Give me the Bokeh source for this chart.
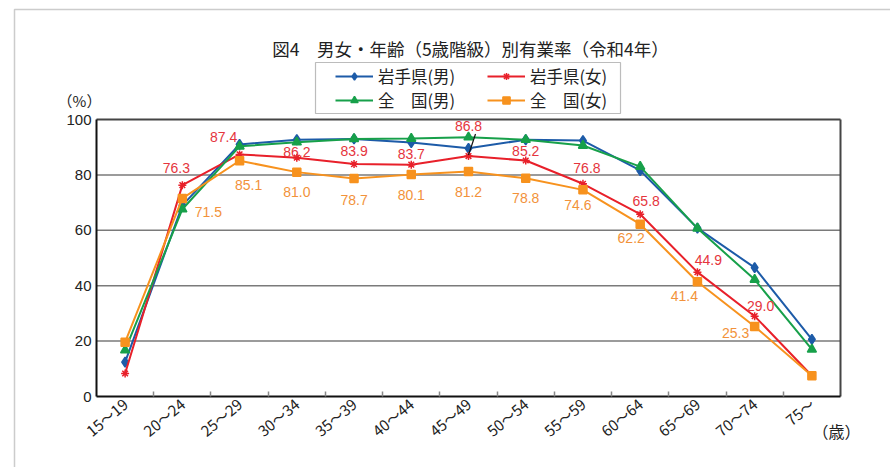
import math
from bokeh.plotting import figure
from bokeh.models import (Range1d, FixedTicker, Label, Legend, LegendItem,
                          BoxAnnotation, ColumnDataSource, LinearAxis)
from bokeh.core.properties import value
from bokeh.embed import file_html
from bokeh.resources import INLINE

# ---------------- data ----------------
categories = ["15～19", "20～24", "25～29", "30～34", "35～39", "40～44", "45～49",
              "50～54", "55～59", "60～64", "65～69", "70～74", "75～"]
iwate_male = [12.4, 69.0, 91.0, 92.7, 93.0, 91.7, 89.6, 92.7, 92.4, 81.6, 60.8, 46.5, 20.6]
iwate_female = [8.3, 76.3, 87.4, 86.2, 83.9, 83.7, 86.8, 85.2, 76.8, 65.8, 44.9, 29.0, 7.5]
japan_male = [16.7, 67.6, 90.3, 91.8, 93.0, 93.1, 93.6, 92.7, 90.6, 83.0, 60.7, 42.2, 17.0]
japan_female = [19.6, 71.5, 85.1, 81.0, 78.7, 80.1, 81.2, 78.8, 74.6, 62.2, 41.4, 25.3, 7.5]
y_ticks = [0, 20, 40, 60, 80, 100]
title_text = "図4　男女・年齢（5歳階級）別有業率（令和4年）"
series_names = ["岩手県(男)", "岩手県(女)", "全　国(男)", "全　国(女)"]

# label offsets in screen pixels (style only)
red_dx = [None, -6, -16, 0, 0, 0, 0, 0, 4, 6, 11, 6, None]
red_dy = [None, -17, -17, -6, -13, -11, -30, -9, -16, -13, -12, -10, None]
org_dx = [None, 26, 9, 0, 0, 0, 0, 0, -5, -9, -13, -19, None]
org_dy = [None, 14, 24, 20, 21, 20, 20, 20, 15, 14, 14, 7, None]

BLUE = "#1d5ba8"
RED = "#e8202a"
GREEN = "#17a04a"
ORANGE = "#f7921e"
RED_T = "#e5353d"
ORG_T = "#f2923a"
TXT = "#222222"
FONT = "Liberation Sans"
JFONT = "Noto Sans CJK JP"

# layout (pixels)
W, H = 890, 467
PL, PR, PT, PB = 96, 840, 119, 396          # plot area edges on the canvas
n = len(categories)
sx = (PR - PL) / n                            # px per category
sy = (PB - PT) / 100.0                        # px per percent
x_lo, x_hi = -0.5, n - 0.5

xs = list(range(n))

p = figure(width=W, height=H, output_backend="svg", toolbar_location=None,
           x_range=Range1d(x_lo - PL / sx, x_lo + (W - PL) / sx),
           y_range=Range1d(-(H - PB) / sy, 100 + PT / sy),
           x_axis_type=None, y_axis_type=None,
           min_border_left=0, min_border_right=0, min_border_top=0, min_border_bottom=0)
p.background_fill_color = "white"
p.border_fill_color = "white"
p.outline_line_color = None
p.xgrid.visible = False
p.ygrid.visible = False

# grid lines and plot-area border
p.segment(x0=[x_lo] * 4, x1=[x_hi] * 4, y0=y_ticks[1:-1], y1=y_ticks[1:-1],
          line_color="#7a7a7a", line_width=1.5)
p.segment(x0=[x_lo, x_hi], x1=[x_hi, x_hi], y0=[y_ticks[-1], y_ticks[0]],
          y1=[y_ticks[-1], y_ticks[-1]], line_color="#444444", line_width=2)

# axes (fixed at the plot-area edges)
xaxis = LinearAxis(fixed_location=0, bounds=(x_lo, x_hi))
xaxis.ticker = FixedTicker(ticks=xs, minor_ticks=[i + 0.5 for i in xs[:-1]])
xaxis.major_label_overrides = {i: c for i, c in zip(xs, categories)}
xaxis.major_label_orientation = math.radians(40)
xaxis.major_tick_in = 0
xaxis.major_tick_out = 0
xaxis.minor_tick_in = 5
xaxis.minor_tick_out = 0
xaxis.minor_tick_line_color = "#888888"
xaxis.minor_tick_line_width = 1.5
xaxis.axis_line_color = "#111111"
xaxis.axis_line_width = 2
xaxis.major_label_text_font = JFONT
xaxis.major_label_text_font_size = "15px"
xaxis.major_label_text_color = TXT
xaxis.major_label_standoff = 5
p.add_layout(xaxis, "below")

yaxis = LinearAxis(fixed_location=x_lo, bounds=(0, 100))
yaxis.ticker = FixedTicker(ticks=y_ticks)
yaxis.major_tick_in = 0
yaxis.major_tick_out = 0
yaxis.minor_tick_line_color = None
yaxis.axis_line_color = "#111111"
yaxis.axis_line_width = 2
yaxis.major_label_text_font = FONT
yaxis.major_label_text_font_size = "15px"
yaxis.major_label_text_color = TXT
yaxis.major_label_standoff = 5
p.add_layout(yaxis, "left")

# lines
series = [(iwate_male, BLUE, "diamond", 10),
          (iwate_female, RED, "asterisk", 8),
          (japan_male, GREEN, "triangle", 9),
          (japan_female, ORANGE, "square", 8)]
legend_items = []
for (vals, col, mk, sz), name in zip(series, series_names):
    r1 = p.line(xs, vals, line_color=col, line_width=2)
    r2 = p.scatter(xs, vals, marker=mk, size=sz, fill_color=col, line_color=col,
                   line_width=1.5)
    legend_items.append(LegendItem(label=name, renderers=[r1, r2]))

# data labels
def lab_source(vals, dx, dy):
    idx = [i for i in xs if dx[i] is not None]
    return ColumnDataSource(dict(
        x=[xs[i] for i in idx], y=[vals[i] for i in idx],
        t=["%.1f" % vals[i] for i in idx],
        dx=[dx[i] for i in idx], dy=[dy[i] for i in idx]))

for vals, dx, dy, col in [(iwate_female, red_dx, red_dy, RED_T),
                          (japan_female, org_dx, org_dy, ORG_T)]:
    src = lab_source(vals, dx, dy)
    p.text(x="x", y="y", text="t", x_offset="dx", y_offset="dy", source=src,
           text_color=col, text_font=value(FONT), text_font_size="14px",
           text_align="center", text_baseline="middle")

# leader line for 45~49 Iwate female label
k = 6
p.segment(x0=[xs[k] + 7 / sx], y0=[iwate_female[k] + 22 / sy],
          x1=[xs[k]], y1=[iwate_female[k] + 1 / sy],
          line_color="#111111", line_width=1.2)

# legend box
box = BoxAnnotation(left=315, right=620, top=H - 62, bottom=H - 113,
                    left_units="screen", right_units="screen",
                    top_units="screen", bottom_units="screen",
                    fill_color=None, line_color="#222222", line_width=1.2,
                    level="overlay")
p.add_layout(box)
# column-major fill: first column = Iwate male / Japan male
leg_order = [0, 2, 1, 3]
leg = Legend(items=[legend_items[i] for i in leg_order], location=(335, H - 112), ncols=2,
             border_line_color=None, background_fill_alpha=0,
             padding=0, margin=0, spacing=0, glyph_width=38, glyph_height=18,
             label_height=18, label_width=109, label_standoff=5,
             label_text_font=JFONT, label_text_font_size="16.5px",
             label_text_color=TXT)
p.add_layout(leg)

# outer frame
frame = BoxAnnotation(left=14, right=3000, top=9, bottom=3000,
                      left_units="canvas", right_units="canvas",
                      top_units="canvas", bottom_units="canvas",
                      fill_color=None, line_color="#555555", line_width=1.5,
                      level="overlay")
p.add_layout(frame)

# texts
p.add_layout(Label(x=470, y=H - 48, x_units="screen", y_units="screen", text=title_text,
                   text_font=JFONT, text_font_size="17.5px", text_color=TXT,
                   text_align="center", text_baseline="middle"))
p.add_layout(Label(x=79, y=H - 100, x_units="screen", y_units="screen", text="（%）",
                   text_font=JFONT, text_font_size="15px", text_color=TXT,
                   text_align="center", text_baseline="middle"))
p.add_layout(Label(x=836, y=H - 430, x_units="screen", y_units="screen", text="（歳）",
                   text_font=JFONT, text_font_size="16px", text_color=TXT,
                   text_align="center", text_baseline="middle"))

open("out.html", "w").write(file_html(p, INLINE))
